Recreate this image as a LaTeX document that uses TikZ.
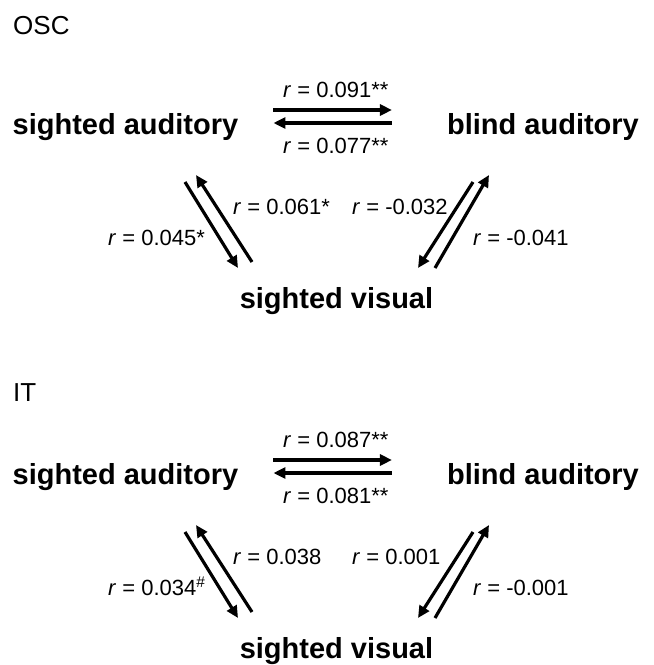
\documentclass[tikz,border=0pt]{standalone}
\usepackage{fontspec}
\setmainfont{Liberation Sans}
\usetikzlibrary{positioning, arrows.meta}

\begin{document}
\begin{tikzpicture}[x=1pt,y=-1pt,>={Triangle[length=12pt,width=11pt]},on grid]
\tikzstyle{group}=[inner sep=0pt,text height=21pt,text depth=6pt,font=\fontsize{29}{35}\selectfont\bfseries]
\tikzstyle{corr}=[inner sep=0pt,anchor=base west,font=\fontsize{22}{26}\selectfont]
\tikzstyle{panel}=[inner sep=0pt,anchor=base west,font=\fontsize{26}{31}\selectfont]
\tikzstyle{link}=[->,line width=3.2pt]

\useasboundingbox (0,0) rectangle (654,665);

%-- OSC --
\node[panel] (osc) at (13,34) {OSC};
\node[group] (sa) at (125.5,126.5) {sighted auditory};
\node[group] (ba) [right=417.5pt of sa] {blind auditory};
\node[group] (sv) [below right=174pt and 211pt of sa] {sighted visual};

\node[corr] (r1) at (283,97) {\textit{r} = 0.091**};
\node[corr] (r2) at (283,153) {\textit{r} = 0.077**};
\node[corr] (r3) at (108,245) {\textit{r} = 0.045*};
\node[corr] (r4) at (233,214) {\textit{r} = 0.061*};
\node[corr] (r5) at (352,214) {\textit{r} = -0.032};
\node[corr] (r6) at (473,245) {\textit{r} = -0.041};

% sighted auditory <-> blind auditory
\draw[link] ([shift={(35,-16.5)}]sa.east) -- ([shift={(-55,-16.5)}]ba.west);
\draw[link] ([shift={(-55,-3.5)}]ba.west) -- ([shift={(35,-3.5)}]sa.east);
% sighted auditory <-> sighted visual
\draw[link] ([shift={(59.5,55.5)}]sa.center) -- ([shift={(-98.5,-32.5)}]sv.center);
\draw[link] ([shift={(-84.5,-38.5)}]sv.center) -- ([shift={(70.5,48.5)}]sa.center);
% blind auditory <-> sighted visual
\draw[link] ([shift={(-70,55.5)}]ba.center) -- ([shift={(81.5,-32.5)}]sv.center);
\draw[link] ([shift={(98.5,-32.5)}]sv.center) -- ([shift={(-54,48.5)}]ba.center);

%-- IT --
\node[panel] (it) at (13,401) {IT};
\node[group] (sa2) [below=350pt of sa] {sighted auditory};
\node[group] (ba2) [below=350pt of ba] {blind auditory};
\node[group] (sv2) [below=350pt of sv] {sighted visual};

\node[corr] (r7) at (283,447) {\textit{r} = 0.087**};
\node[corr] (r8) at (283,503) {\textit{r} = 0.081**};
\node[corr] (r9) at (108,595) {\textit{r} = 0.034\textsuperscript{\#}};
\node[corr] (r10) at (233,564) {\textit{r} = 0.038};
\node[corr] (r11) at (352,564) {\textit{r} = 0.001};
\node[corr] (r12) at (473,595) {\textit{r} = -0.001};

% sighted auditory <-> blind auditory
\draw[link] ([shift={(35,-16.5)}]sa2.east) -- ([shift={(-55,-16.5)}]ba2.west);
\draw[link] ([shift={(-55,-3.5)}]ba2.west) -- ([shift={(35,-3.5)}]sa2.east);
% sighted auditory <-> sighted visual
\draw[link] ([shift={(59.5,55.5)}]sa2.center) -- ([shift={(-98.5,-32.5)}]sv2.center);
\draw[link] ([shift={(-84.5,-38.5)}]sv2.center) -- ([shift={(70.5,48.5)}]sa2.center);
% blind auditory <-> sighted visual
\draw[link] ([shift={(-70,55.5)}]ba2.center) -- ([shift={(81.5,-32.5)}]sv2.center);
\draw[link] ([shift={(98.5,-32.5)}]sv2.center) -- ([shift={(-54,48.5)}]ba2.center);

\end{tikzpicture}
\end{document}
